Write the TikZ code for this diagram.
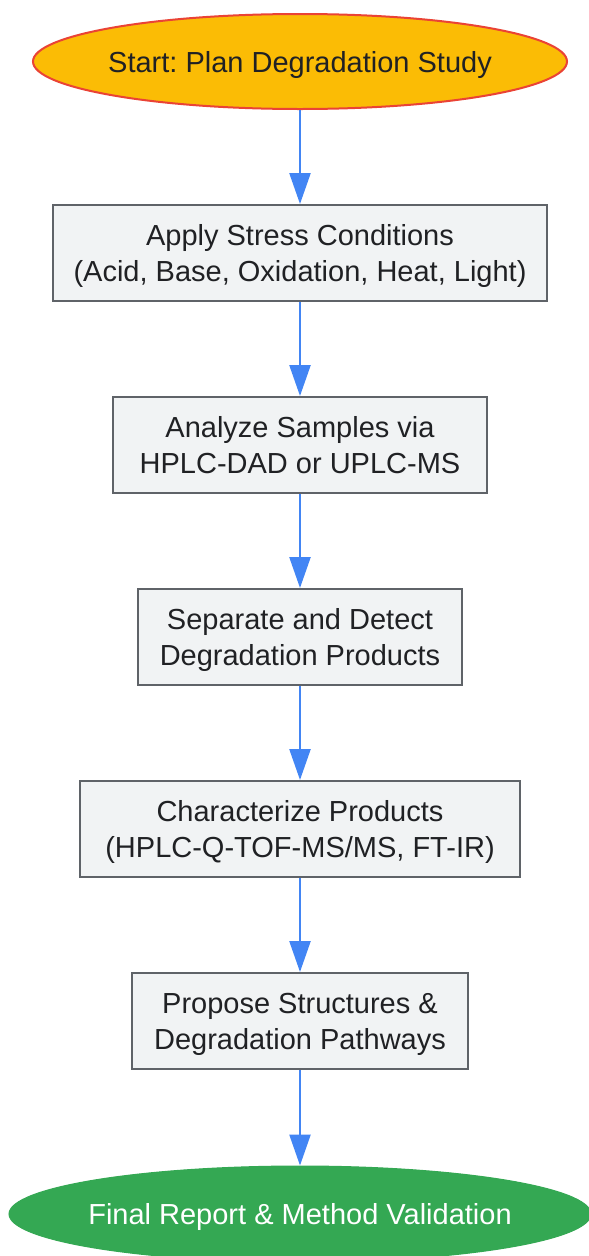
\documentclass[tikz,border=0pt]{standalone}
\usepackage{fontspec}
\setmainfont{Liberation Sans}
\frenchspacing
\usetikzlibrary{shapes.geometric,arrows.meta}
\definecolor{startfill}{HTML}{FBBC05}
\definecolor{startline}{HTML}{EA4335}
\definecolor{endfill}{HTML}{34A853}
\definecolor{arrowblue}{HTML}{4285F4}
\definecolor{boxfill}{HTML}{F1F3F4}
\definecolor{boxline}{HTML}{5F6368}
\definecolor{textdark}{HTML}{202124}
\begin{document}
\begin{tikzpicture}[x=1pt,y=1pt,
  every node/.style={font=\fontsize{29}{36}\selectfont, text=textdark, align=center, inner sep=0pt, text depth=0pt},
  stepbox/.style={draw=boxline, line width=2pt, fill=boxfill, minimum height=96pt},
  startnode/.style={ellipse, draw=startline, line width=2pt, fill=startfill, inner xsep=-60pt, minimum width=534pt, minimum height=95pt},
  endnode/.style={ellipse, draw=endfill, line width=1pt, fill=endfill, text=white, inner xsep=-60pt, minimum width=582pt, minimum height=96pt},
  flow/.style={draw=arrowblue, line width=2.4pt, -{Triangle[length=31pt,width=21pt]}}
]
\useasboundingbox (0,0) rectangle (589,-1256);
\fill[white] (0,0) rectangle (589,-1256);
\node[startnode] (start) at (300,-61.5) {Start: Plan Degradation Study};
\node[stepbox, minimum width=494pt] (stress) at (300,-253) {Apply Stress Conditions\\(Acid, Base, Oxidation, Heat, Light)};
\node[stepbox, minimum width=374pt] (analyze) at (300,-445) {Analyze Samples via\\HPLC-DAD or UPLC-MS};
\node[stepbox, minimum width=324pt] (separate) at (300,-637) {Separate and Detect\\Degradation Products};
\node[stepbox, minimum width=440pt] (charact) at (300,-829) {Characterize Products\\(HPLC-Q-TOF-MS/MS, FT-IR)};
\node[stepbox, minimum width=336pt] (propose) at (300,-1021) {Propose Structures \&\\Degradation Pathways};
\node[endnode] (final) at (300,-1214) {Final Report \& Method Validation};
\draw[flow] (start) -- (stress);
\draw[flow] (stress) -- (analyze);
\draw[flow] (analyze) -- (separate);
\draw[flow] (separate) -- (charact);
\draw[flow] (charact) -- (propose);
\draw[flow] (propose) -- (final);
\end{tikzpicture}
\end{document}
